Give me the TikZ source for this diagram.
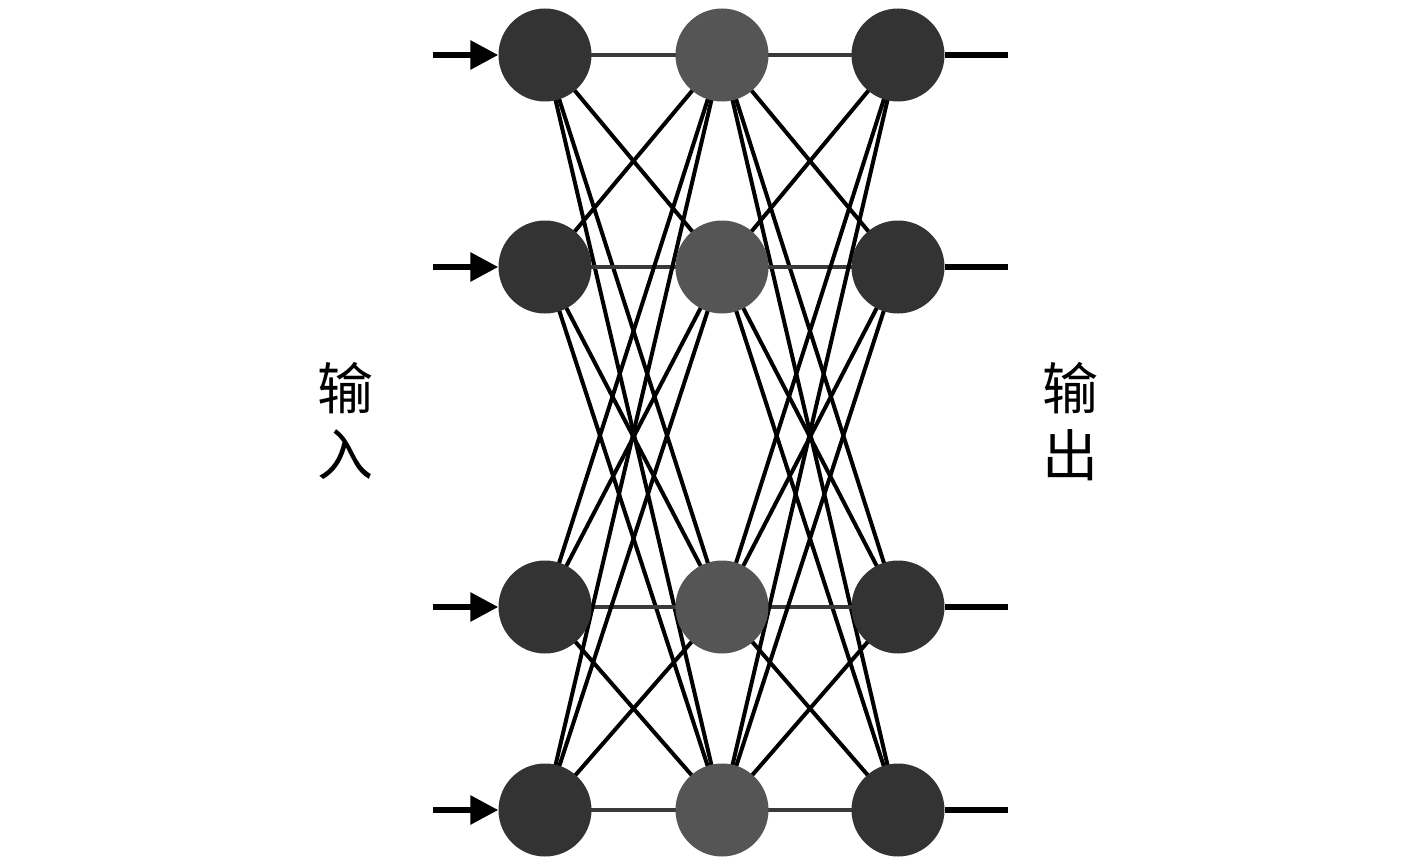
\documentclass[tikz,border=0pt]{standalone}
\usepackage{fontspec}
\newfontfamily\cjk{Noto Sans CJK SC}
\usetikzlibrary{arrows.meta}
\pgfdeclarelayer{background}
\pgfsetlayers{background,main}
\definecolor{nodeA}{HTML}{333333}
\definecolor{nodeB}{HTML}{555555}
\definecolor{rowline}{HTML}{3A3A3A}
\begin{document}
\begin{tikzpicture}[x=1pt,y=-1pt,
  neuron/.style={circle,minimum size=93pt,inner sep=0pt,fill=nodeA},
  hidden/.style={neuron,fill=nodeB},
  link/.style={line width=4pt,black},
  rowlink/.style={line width=4.5pt,rowline},
  inarrow/.style={line width=6pt,black,-{Triangle[length=28pt,width=28pt]}},
  outline/.style={line width=6pt,black},
  label/.style={font=\cjk\fontsize{56}{60}\selectfont,inner sep=0pt}]
\useasboundingbox (0,0) rectangle (1417,867);
% nodes
\foreach \r/\y in {1/55,2/267,3/607,4/810}{
  \node[neuron] (a\r) at (545,\y) {};
  \node[hidden] (b\r) at (722,\y) {};
  \node[neuron] (c\r) at (898,\y) {};
  \coordinate (in\r) at (433,\y);
  \coordinate (out\r) at (1008,\y);
}
% connectors (behind nodes)
\begin{pgfonlayer}{background}
\foreach \i in {1,2,3,4}{
  \foreach \j in {1,2,3,4}{
    \ifnum\i=\j
      \draw[rowlink] (a\i.center) -- (b\j.center);
      \draw[rowlink] (b\i.center) -- (c\j.center);
    \else
      \draw[link] (a\i.center) -- (b\j.center);
      \draw[link] (b\i.center) -- (c\j.center);
    \fi
  }
}
\end{pgfonlayer}
\foreach \i in {1,2,3,4}{
  \draw[inarrow] (in\i) -- (a\i);
  \draw[outline] (c\i) -- (out\i);
}
% labels
\node[label] (lin1) at (345,388) {输};
\node[label] (lin2) at (345,455) {入};
\node[label] (lout1) at (1070,388) {输};
\node[label] (lout2) at (1070,455) {出};
\end{tikzpicture}
\end{document}
